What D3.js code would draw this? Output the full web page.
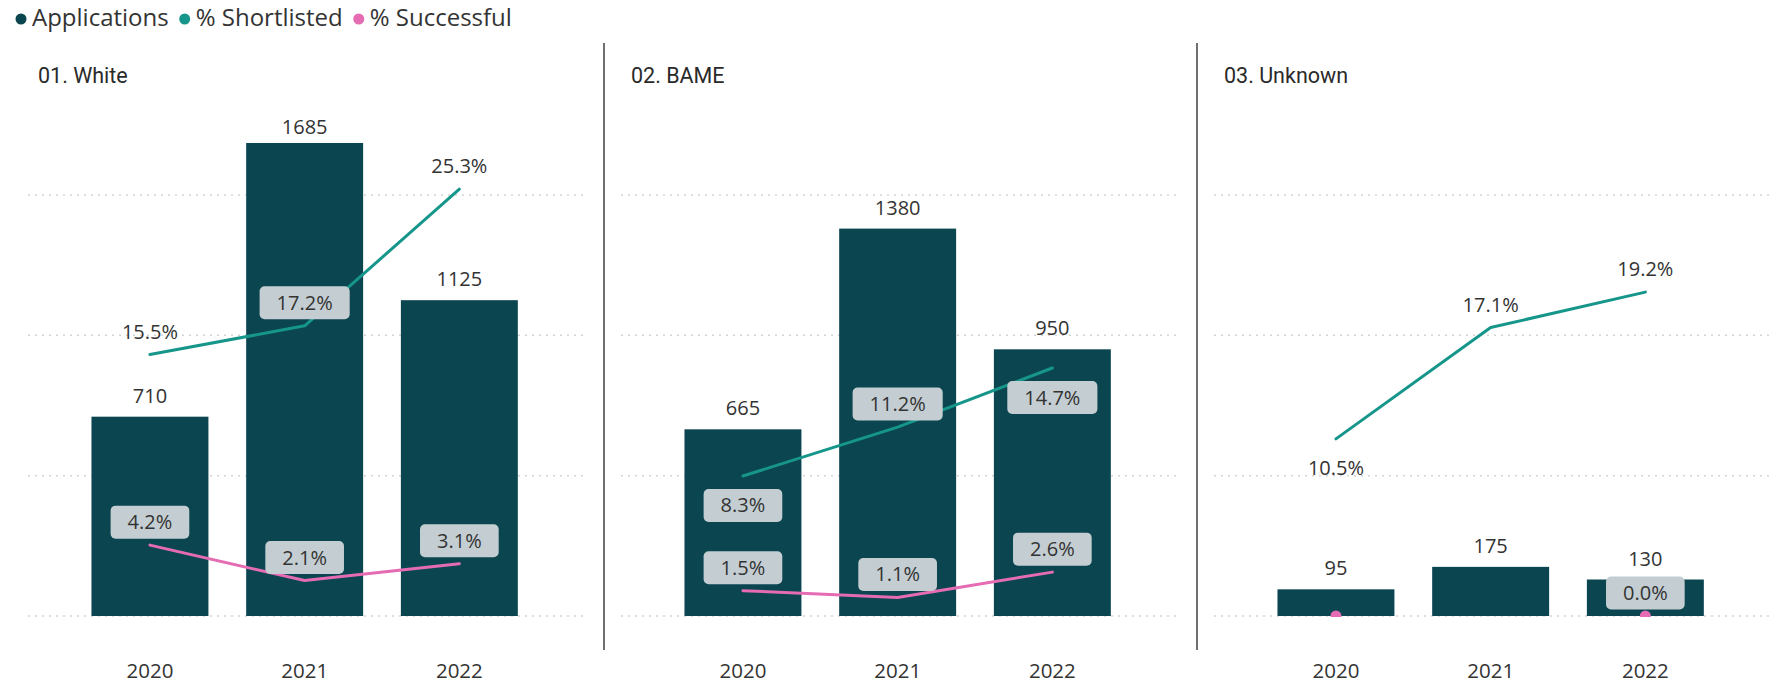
<!DOCTYPE html>
<html>
<head>
<meta charset="utf-8">
<script src="https://cdn.jsdelivr.net/npm/d3@7"></script>
<style>
  html, body { margin: 0; padding: 0; background: #ffffff; }
  svg { display: block; }
  text { font-family: "Open Sans", "Noto Sans", sans-serif; fill: #333333; }
  .title { font-family: Roboto, "Noto Sans", sans-serif; fill: #2a2a2a; }
</style>
</head>
<body>
<svg id="chart" width="1769" height="684"></svg>
<script>
// ---- data -------------------------------------------------------------
const groups = ["01. White", "02. BAME", "03. Unknown"];
const years = ["2020", "2021", "2022"];
const applications = [
  [710, 1685, 1125],
  [665, 1380, 950],
  [95, 175, 130]
];
const shortlisted = [
  [15.5, 17.2, 25.3],
  [8.3, 11.2, 14.7],
  [10.5, 17.1, 19.2]
];
const successful = [
  [4.2, 2.1, 3.1],
  [1.5, 1.1, 2.6],
  [0.0, null, 0.0]
];
const gridValues = [0, 500, 1000, 1500];
const seriesNames = ["Applications", "% Shortlisted", "% Successful"];

// ---- layout & styling ---------------------------------------------------
const W = 1769, H = 684;
const plotTop = 118, plotBottom = 616;
const panelLeft = [11, 604, 1197];
const colors = { bar: "#0B4550", short: "#16968B", succ: "#E56CB3", box: "#C4CED2" };
// data labels that sit under their point instead of above it
const labelsBelow = new Set(["1-0-short", "1-2-short", "2-0-short"]);
// data labels that are suppressed
const labelsHidden = new Set(["2-0-succ"]);

const svg = d3.select("#chart");

const yApp = d3.scaleLinear().domain([0, 1774]).range([plotBottom, plotTop]);
const yPct = d3.scaleLinear().domain([0, 29.52]).range([plotBottom, plotTop]);
const fmtPct = d => d.toFixed(1) + "%";

// clip so that markers sitting on zero are cut at the baseline
svg.append("defs").append("clipPath").attr("id", "plotClip")
  .append("rect").attr("x", 0).attr("y", 0).attr("width", W).attr("height", plotBottom + 1);

// ---- legend -------------------------------------------------------------
const legend = svg.append("g").attr("class", "legend");
let lx = 21;
const legendColors = [colors.bar, colors.short, colors.succ];
seriesNames.forEach((name, i) => {
  legend.append("circle").attr("cx", lx).attr("cy", 19).attr("r", 5.5).attr("fill", legendColors[i]);
  const t = legend.append("text").attr("x", lx + 11).attr("y", 26)
    .style("font-size", "24px").text(name);
  lx = lx + 11 + t.node().getComputedTextLength() + 16;
});

// ---- separators between panels --------------------------------------------
[604, 1197].forEach(x => {
  svg.append("line").attr("x1", x).attr("x2", x).attr("y1", 43).attr("y2", 650)
    .attr("stroke", "#707070").attr("stroke-width", 2);
});

// ---- panels ---------------------------------------------------------------
groups.forEach((group, gi) => {
  const x0 = panelLeft[gi];
  const g = svg.append("g").attr("class", "panel");

  const x = d3.scaleBand().domain(years)
    .range([x0 + 61.6, x0 + 525.7])
    .paddingInner(0.244).paddingOuter(0.122);
  const cx = yr => x(yr) + x.bandwidth() / 2;

  // title
  g.append("text").attr("class", "title")
    .attr("x", x0 + 27).attr("y", 83)
    .style("font-size", "21.5px").text(group);

  // dotted gridlines
  g.selectAll("line.grid").data(gridValues).join("line")
    .attr("class", "grid")
    .attr("x1", x0 + 17).attr("x2", Math.min(x0 + 575, W))
    .attr("y1", d => yApp(d)).attr("y2", d => yApp(d))
    .attr("stroke", "#d4d4d4").attr("stroke-width", 1.5)
    .attr("stroke-dasharray", "2,5");

  // bars
  const appRows = years.map((yr, i) => ({ yr, v: applications[gi][i] }));
  g.selectAll("rect.bar").data(appRows).join("rect")
    .attr("class", "bar")
    .attr("x", d => x(d.yr)).attr("width", x.bandwidth())
    .attr("y", d => yApp(d.v)).attr("height", d => yApp(0) - yApp(d.v))
    .attr("fill", colors.bar);

  // bar value labels
  g.selectAll("text.barval").data(appRows).join("text")
    .attr("class", "barval")
    .attr("x", d => cx(d.yr))
    .attr("y", d => Math.max(yApp(d.v) - 14, plotTop + 16))
    .attr("text-anchor", "middle")
    .style("font-size", "20px")
    .text(d => d.v);

  // year axis
  const axis = g.append("g").attr("transform", `translate(0,${plotBottom})`)
    .call(d3.axisBottom(x).tickSize(0).tickPadding(47));
  axis.select(".domain").remove();
  axis.selectAll("text").style("font-size", "20.5px")
    .style("font-family", "'Open Sans', 'Noto Sans', sans-serif").attr("fill", "#3a3a3a");

  const barRects = appRows.map(d => ({ x1: x(d.yr), x2: x(d.yr) + x.bandwidth(), y1: yApp(d.v), y2: yApp(0) }));

  // line series
  const series = [
    { key: "short", values: shortlisted[gi], color: colors.short },
    { key: "succ", values: successful[gi], color: colors.succ }
  ];

  const lineGen = d3.line()
    .defined(d => d.v !== null)
    .x(d => cx(d.yr)).y(d => yPct(d.v));

  series.forEach(s => {
    const pts = years.map((yr, i) => ({ yr, i, v: s.values[i] }));
    const lg = g.append("g").attr("clip-path", "url(#plotClip)");
    lg.append("path").datum(pts)
      .attr("d", lineGen)
      .attr("fill", "none").attr("stroke", s.color)
      .attr("stroke-width", 3).attr("stroke-linejoin", "round").attr("stroke-linecap", "round");

    // markers for points with no neighbour to connect to
    const isolated = pts.filter((p, k) => p.v !== null &&
      (k === 0 || pts[k - 1].v === null) && (k === pts.length - 1 || pts[k + 1].v === null));
    lg.selectAll("circle").data(isolated).join("circle")
      .attr("cx", d => cx(d.yr)).attr("cy", d => yPct(d.v)).attr("r", 5.5)
      .attr("fill", s.color);
  });

  // data labels for the percentage series (drawn above lines)
  series.forEach(s => {
    years.forEach((yr, i) => {
      const v = s.values[i];
      const id = `${gi}-${i}-${s.key}`;
      if (v === null || labelsHidden.has(id)) return;
      const py = yPct(v);
      const ly = labelsBelow.has(id) ? py + 29.5 : py - 23;
      const lab = g.append("g");
      const t = lab.append("text")
        .attr("x", cx(yr)).attr("y", ly + 7)
        .attr("text-anchor", "middle")
        .style("font-size", "20px").text(fmtPct(v));
      const tw = t.node().getComputedTextLength();
      const bw = tw + 34, bh = 33;
      const bx1 = cx(yr) - bw / 2, bx2 = cx(yr) + bw / 2, by1 = ly - bh / 2, by2 = ly + bh / 2;
      const overBar = barRects.some(r => bx1 < r.x2 && bx2 > r.x1 && by1 < r.y2 && by2 > r.y1);
      if (overBar) {
        lab.insert("rect", "text")
          .attr("x", bx1).attr("y", by1).attr("width", bw).attr("height", bh)
          .attr("rx", 5).attr("ry", 5).attr("fill", colors.box);
      }
    });
  });
});
</script>
</body>
</html>
